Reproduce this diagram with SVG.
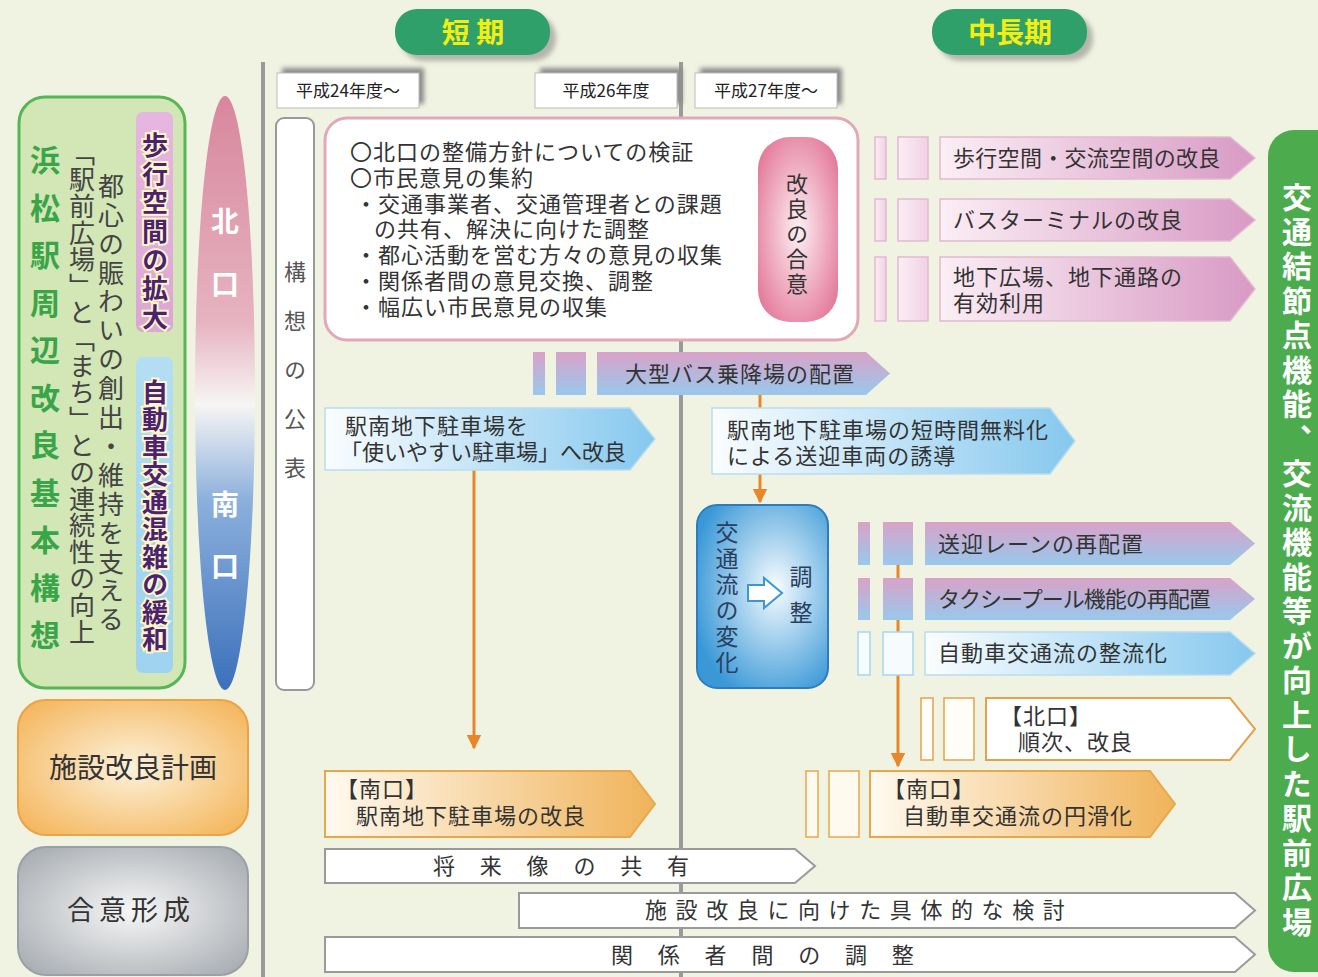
<svg xmlns="http://www.w3.org/2000/svg" width="1318" height="977" viewBox="0 0 1318 977">
<style>
.t{font-family:'Noto Sans CJK JP','Noto Sans CJK SC',sans-serif;fill:#333}
.v{writing-mode:vertical-rl}
.b{font-weight:bold}
.yr{font-size:17px;fill:#222}
.m{font-size:22px;letter-spacing:1px}
.bar{stroke-width:1.5}
</style>
<defs>
<filter id="blur" x="-20%" y="-20%" width="140%" height="140%"><feGaussianBlur stdDeviation="2.5"/></filter>
<linearGradient id="pinkH" x1="0" y1="0" x2="1" y2="0"><stop offset="0" stop-color="#fbeef5"/><stop offset="1" stop-color="#d89ac4"/></linearGradient>
<linearGradient id="pinkBar" x1="0" y1="0" x2="1" y2="0"><stop offset="0" stop-color="#fbeef5"/><stop offset="1" stop-color="#f0d2e4"/></linearGradient>
<linearGradient id="pbV" x1="0" y1="0" x2="0" y2="1"><stop offset="0" stop-color="#d9a2c8"/><stop offset="1" stop-color="#98c8ec"/></linearGradient>
<linearGradient id="blueH" x1="0" y1="0" x2="1" y2="0"><stop offset="0" stop-color="#fafdff"/><stop offset="1" stop-color="#86c8ee"/></linearGradient>
<linearGradient id="orH" x1="0" y1="0" x2="1" y2="0"><stop offset="0" stop-color="#fffaf0"/><stop offset="1" stop-color="#f0b35a"/></linearGradient>
<linearGradient id="ns" x1="0" y1="0" x2="0" y2="1"><stop offset="0" stop-color="#d8879d"/><stop offset="0.38" stop-color="#e6b3c1"/><stop offset="0.52" stop-color="#f7f5f4"/><stop offset="0.68" stop-color="#8cb0dc"/><stop offset="1" stop-color="#3b70bb"/></linearGradient>
<radialGradient id="pill" cx="0.5" cy="0.5" r="0.6"><stop offset="0" stop-color="#fdf0f4"/><stop offset="1" stop-color="#e47c9c"/></radialGradient>
<radialGradient id="flow" cx="0.6" cy="0.45" r="0.65"><stop offset="0" stop-color="#f7fcff"/><stop offset="1" stop-color="#3a98d7"/></radialGradient>
<radialGradient id="orR" cx="0.5" cy="0.5" r="0.65"><stop offset="0" stop-color="#fdf2dc"/><stop offset="1" stop-color="#f4b65c"/></radialGradient>
<radialGradient id="grR" cx="0.5" cy="0.5" r="0.65"><stop offset="0" stop-color="#f7f7f7"/><stop offset="1" stop-color="#a8adb2"/></radialGradient>
<linearGradient id="pinkBox" x1="0" y1="0" x2="0" y2="1"><stop offset="0" stop-color="#e7b6e0"/><stop offset="1" stop-color="#dca6d4"/></linearGradient>
<linearGradient id="blueBox" x1="0" y1="0" x2="0" y2="1"><stop offset="0" stop-color="#b3def3"/><stop offset="1" stop-color="#9ed2ef"/></linearGradient>
<marker id="ah" viewBox="0 0 10 10" refX="9" refY="5" markerWidth="5" markerHeight="5" orient="auto" markerUnits="strokeWidth"><path d="M0,0 L10,5 L0,10 Z" fill="#e8862a"/></marker>
</defs>
<rect width="1318" height="977" fill="#f1f3e2"/>

<g id="timeline-lines" stroke="#9a9a9a" stroke-width="4">
<line x1="263" y1="62" x2="263" y2="977"/>
<line x1="681" y1="62" x2="681" y2="977"/>
</g>

<g id="connectors" stroke="#e8862a" stroke-width="3" fill="none">
<line x1="760" y1="395" x2="760" y2="502" marker-end="url(#ah)"/>
<line x1="474" y1="470" x2="474" y2="748" marker-end="url(#ah)"/>
<line x1="898" y1="560" x2="898" y2="766" marker-end="url(#ah)"/>
</g>

<g id="tab-short">
<rect x="401" y="15" width="155" height="46" rx="22" fill="#777" opacity="0.5" filter="url(#blur)"/>
<rect x="395" y="9" width="155" height="46" rx="22" fill="#2fa06a"/>
<text class="t b" x="473" y="43" font-size="28" text-anchor="middle" style="fill:#f4ee10">短 期</text>
</g>
<g id="tab-long">
<rect x="938" y="15" width="155" height="46" rx="22" fill="#777" opacity="0.5" filter="url(#blur)"/>
<rect x="932" y="9" width="155" height="46" rx="22" fill="#2fa06a"/>
<text class="t b" x="1010" y="43" font-size="28" text-anchor="middle" style="fill:#f4ee10">中長期</text>
</g>

<g id="year24">
<rect x="282" y="68" width="142" height="36" fill="#8a8a8a" filter="url(#blur)"/>
<rect x="277" y="73" width="142" height="35" fill="#fff" stroke="#bbb"/>
<text class="t yr" x="348" y="97" text-anchor="middle">平成24年度～</text>
</g>
<g id="year26">
<rect x="540" y="68" width="142" height="36" fill="#8a8a8a" filter="url(#blur)"/>
<rect x="535" y="73" width="142" height="35" fill="#fff" stroke="#bbb"/>
<text class="t yr" x="606" y="97" text-anchor="middle">平成26年度</text>
</g>
<g id="year27">
<rect x="700" y="68" width="142" height="36" fill="#8a8a8a" filter="url(#blur)"/>
<rect x="695" y="73" width="142" height="35" fill="#fff" stroke="#bbb"/>
<text class="t yr" x="766" y="97" text-anchor="middle">平成27年度～</text>
</g>

<g id="concept-panel">
<rect x="19" y="97" width="166" height="591" rx="26" fill="#d2e6b6" stroke="#55b655" stroke-width="3"/>
<text class="t v b" x="45" y="145" font-size="30" letter-spacing="17.5" style="fill:#3aa548">浜松駅周辺改良基本構想</text>
<text class="t v" x="82" y="140" font-size="26" letter-spacing="0.6" style="fill:#444">「駅前広場」と「まち」との連続性の向上</text>
<text class="t v" x="111" y="173" font-size="26" letter-spacing="2.9" style="fill:#444">都心の賑わいの創出・維持を支える</text>
</g>
<g id="goal-walk">
<rect x="136" y="112" width="37" height="220" rx="7" fill="url(#pinkBox)"/>
<text class="t v b" x="155" y="132" font-size="26" letter-spacing="2.7" stroke="#fff6c8" stroke-width="4" paint-order="stroke" style="fill:#4a2270">歩行空間の拡大</text>
</g>
<g id="goal-car">
<rect x="136" y="357" width="37" height="316" rx="7" fill="url(#blueBox)"/>
<text class="t v b" x="155" y="379" font-size="26" letter-spacing="1.5" stroke="#fff6c8" stroke-width="4" paint-order="stroke" style="fill:#4a2270">自動車交通混雑の緩和</text>
</g>
<g id="north-south">
<ellipse cx="225" cy="393" rx="30" ry="297" fill="url(#ns)"/>
<text class="t b" x="225" y="232" font-size="28" text-anchor="middle" style="fill:#fff">北</text>
<text class="t b" x="225" y="295" font-size="28" text-anchor="middle" style="fill:#fff">口</text>
<text class="t b" x="225" y="515" font-size="28" text-anchor="middle" style="fill:#fff">南</text>
<text class="t b" x="225" y="577" font-size="28" text-anchor="middle" style="fill:#fff">口</text>
</g>

<g id="facility-plan">
<rect x="18" y="700" width="230" height="135" rx="28" fill="url(#orR)" stroke="#eaa448" stroke-width="2"/>
<text class="t" x="133" y="778" font-size="28" text-anchor="middle">施設改良計画</text>
</g>
<g id="consensus">
<rect x="18" y="847" width="230" height="128" rx="28" fill="url(#grR)" stroke="#9aa0a5" stroke-width="2"/>
<text class="t" x="131" y="920" font-size="27" letter-spacing="5" text-anchor="middle">合意形成</text>
</g>

<g id="announce">
<rect x="276" y="118" width="38" height="572" rx="8" fill="#fff" stroke="#999" stroke-width="2"/>
<text class="t v" x="295" y="261" font-size="22" letter-spacing="27" style="fill:#555">構想の公表</text>
</g>

<g id="north-review">
<rect x="325" y="118" width="533" height="222" rx="22" fill="#fff" stroke="#e3a8b8" stroke-width="3"/>
<text class="t m" x="350" y="160">〇北口の整備方針についての検証</text>
<text class="t m" x="350" y="186">〇市民意見の集約</text>
<text class="t m" x="355" y="212">・交通事業者、交通管理者との課題</text>
<text class="t m" x="374" y="237">の共有、解決に向けた調整</text>
<text class="t m" x="355" y="263">・都心活動を営む方々の意見の収集</text>
<text class="t m" x="355" y="289">・関係者間の意見交換、調整</text>
<text class="t m" x="355" y="315">・幅広い市民意見の収集</text>
</g>
<g id="agreement">
<rect x="758" y="137" width="80" height="185" rx="32" fill="url(#pill)"/>
<text class="t v" x="797" y="173" font-size="22" letter-spacing="3">改良の合意</text>
</g>

<g id="walk-improve">
<rect class="bar" x="875" y="137" width="11" height="42" fill="url(#pinkBar)" stroke="#e3b8d2"/>
<rect class="bar" x="898" y="137" width="30" height="42" fill="url(#pinkBar)" stroke="#e3b8d2"/>
<path d="M940,137 H1230 L1255,158 L1230,179 H940 Z" fill="url(#pinkH)" stroke="#e3b8d2" stroke-width="1.5"/>
<text class="t m" x="953" y="166" style="letter-spacing:0.3px">歩行空間・交流空間の改良</text>
</g>
<g id="bus-terminal">
<rect class="bar" x="875" y="199" width="11" height="42" fill="url(#pinkBar)" stroke="#e3b8d2"/>
<rect class="bar" x="898" y="199" width="30" height="42" fill="url(#pinkBar)" stroke="#e3b8d2"/>
<path d="M940,199 H1230 L1255,220 L1230,241 H940 Z" fill="url(#pinkH)" stroke="#e3b8d2" stroke-width="1.5"/>
<text class="t m" x="953" y="228">バスターミナルの改良</text>
</g>
<g id="underground">
<rect class="bar" x="875" y="257" width="11" height="64" fill="url(#pinkBar)" stroke="#e3b8d2"/>
<rect class="bar" x="898" y="257" width="30" height="64" fill="url(#pinkBar)" stroke="#e3b8d2"/>
<path d="M940,257 H1230 L1255,289 L1230,321 H940 Z" fill="url(#pinkH)" stroke="#e3b8d2" stroke-width="1.5"/>
<text class="t m" x="953" y="285">地下広場、地下通路の</text>
<text class="t m" x="953" y="311">有効利用</text>
</g>

<g id="bus-stop">
<rect x="533" y="352" width="12" height="43" fill="url(#pbV)"/>
<rect x="556" y="352" width="30" height="43" fill="url(#pbV)"/>
<path d="M597,352 H866 L890,373.5 L866,395 H597 Z" fill="url(#pbV)"/>
<text class="t m" x="740" y="382" text-anchor="middle">大型バス乗降場の配置</text>
</g>

<g id="parking-easy">
<path d="M325,408 H630 L655,439 L630,470 H325 Z" fill="url(#blueH)" stroke="#b9ddf1" stroke-width="1.5"/>
<text class="t m" x="345" y="434">駅南地下駐車場を</text>
<text class="t m" x="340" y="460" style="letter-spacing:0">「使いやすい駐車場」へ改良</text>
</g>
<g id="parking-free">
<path d="M712,408 H1050 L1075,441 L1050,474 H712 Z" fill="url(#blueH)" stroke="#b9ddf1" stroke-width="1.5"/>
<text class="t m" x="727" y="438">駅南地下駐車場の短時間無料化</text>
<text class="t m" x="727" y="464">による送迎車両の誘導</text>
</g>

<g id="traffic-change">
<rect x="697" y="505" width="131" height="183" rx="20" fill="url(#flow)" stroke="#2b7cc0" stroke-width="2"/>
<text class="t v" x="727" y="521" font-size="23" letter-spacing="3" style="fill:#2a4060">交通流の変化</text>
<text class="t v" x="801" y="565" font-size="23" letter-spacing="13" style="fill:#2a4060">調整</text>
<path d="M748,585 H764 V578 L782,593 L764,608 V601 H748 Z" fill="#fff" stroke="#3a98d7" stroke-width="2"/>
</g>

<g id="pickup-lane">
<rect x="858" y="522" width="12" height="43" fill="url(#pbV)"/>
<rect x="883" y="522" width="30" height="43" fill="url(#pbV)"/>
<path d="M925,522 H1230 L1255,543.5 L1230,565 H925 Z" fill="url(#pbV)"/>
<text class="t m" x="938" y="552">送迎レーンの再配置</text>
</g>
<g id="taxi-pool">
<rect x="858" y="578" width="12" height="42" fill="url(#pbV)"/>
<rect x="883" y="578" width="30" height="42" fill="url(#pbV)"/>
<path d="M925,578 H1230 L1255,599 L1230,620 H925 Z" fill="url(#pbV)"/>
<text class="t m" x="938" y="607" style="letter-spacing:-1px">タクシープール機能の再配置</text>
</g>
<g id="traffic-regulate">
<rect x="858" y="632" width="12" height="43" fill="#f6fbfe" stroke="#a6d6f0" stroke-width="1.5"/>
<rect x="883" y="632" width="30" height="43" fill="#f6fbfe" stroke="#a6d6f0" stroke-width="1.5"/>
<path d="M925,632 H1230 L1255,653.5 L1230,675 H925 Z" fill="url(#blueH)" stroke="#b9ddf1" stroke-width="1.5"/>
<text class="t m" x="938" y="661">自動車交通流の整流化</text>
</g>

<g id="north-improve">
<rect x="921" y="698" width="12" height="62" fill="#fffdf8" stroke="#e3a24a" stroke-width="1.5"/>
<rect x="944" y="698" width="30" height="62" fill="#fffdf8" stroke="#e3a24a" stroke-width="1.5"/>
<path d="M986,698 H1230 L1255,729 L1230,760 H986 Z" fill="#fff" stroke="#e3a24a" stroke-width="2"/>
<text class="t m" x="1000" y="724">【北口】</text>
<text class="t m" x="1018" y="750">順次、改良</text>
</g>
<g id="south-smooth">
<rect x="806" y="771" width="12" height="66" fill="#fffaf0" stroke="#e8a84a" stroke-width="1.5"/>
<rect x="829" y="771" width="30" height="66" fill="#fffaf0" stroke="#e8a84a" stroke-width="1.5"/>
<path d="M870,771 H1150 L1175,804 L1150,837 H870 Z" fill="url(#orH)" stroke="#e8a84a" stroke-width="2"/>
<text class="t m" x="883" y="797">【南口】</text>
<text class="t m" x="903" y="824">自動車交通流の円滑化</text>
</g>
<g id="south-parking">
<path d="M325,771 H630 L655,804 L630,837 H325 Z" fill="url(#orH)" stroke="#e8a84a" stroke-width="2"/>
<text class="t m" x="336" y="797">【南口】</text>
<text class="t m" x="356" y="824">駅南地下駐車場の改良</text>
</g>

<g id="share-vision">
<path d="M325,849 H795 L815,866 L795,883 H325 Z" fill="#fff" stroke="#9a9a9a" stroke-width="2"/>
<text class="t" x="433" y="874" font-size="22" letter-spacing="24.8">将来像の共有</text>
</g>
<g id="concrete-study">
<path d="M519,893 H1235 L1255,910.5 L1235,928 H519 Z" fill="#fff" stroke="#9a9a9a" stroke-width="2"/>
<text class="t" x="645" y="918" font-size="22" letter-spacing="8.6">施設改良に向けた具体的な検討</text>
</g>
<g id="coordination">
<path d="M325,937 H1235 L1255,954.5 L1235,972 H325 Z" fill="#fff" stroke="#9a9a9a" stroke-width="2"/>
<text class="t" x="611" y="963" font-size="22" letter-spacing="24.8">関係者間の調整</text>
</g>

<g id="goal-plaza">
<rect x="1268" y="130" width="80" height="842" rx="26" fill="#4cab4c"/>
<text class="t v b" x="1297" y="182" font-size="30" letter-spacing="4.5" style="fill:#fff">交通結節点機能、交流機能等が向上した駅前広場</text>
</g>
</svg>
